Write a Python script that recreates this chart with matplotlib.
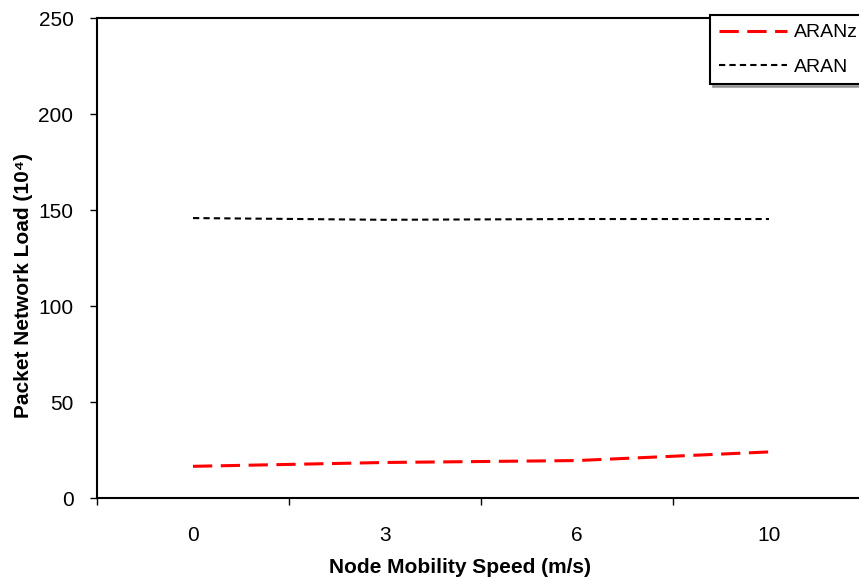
import matplotlib
matplotlib.use("Agg")
import matplotlib.pyplot as plt
from matplotlib.ticker import FixedLocator, NullFormatter

plt.rcParams['font.family'] = ['Liberation Sans', 'DejaVu Sans']

speeds = ['0', '3', '6', '10']
aranz = [16.5, 18.5, 19.5, 24.0]
aran = [145.8, 144.9, 145.3, 145.3]
y_ticks = [0, 50, 100, 150, 200, 250]

W, H = 859, 581
fig = plt.figure(figsize=(W / 100, H / 100), dpi=100)
ax = fig.add_axes([97 / W, 83 / H, 768 / W, 480 / H])

x = list(range(len(speeds)))
ax.plot(x, aranz, color='#ff0000', lw=2.2, dashes=(6.3, 2.8), label='ARANz')
ax.plot(x, aran, color='black', lw=1.5, dashes=(3, 2), label='ARAN')

ax.set_xlim(-0.5, len(speeds) - 0.5)
ax.set_ylim(0, 250)
ax.set_yticks(y_ticks)

# category boundaries carry the tick marks, centres carry the labels
ax.xaxis.set_major_locator(FixedLocator([i - 0.5 for i in range(len(speeds) + 1)]))
ax.xaxis.set_major_formatter(NullFormatter())
ax.xaxis.set_minor_locator(FixedLocator(x))
ax.set_xticklabels(speeds, minor=True)
ax.tick_params(axis='x', which='minor', length=0, pad=20, labelsize=15)
ax.tick_params(axis='x', which='major', length=5, width=1, direction='out')
ax.tick_params(axis='y', length=5, width=1, direction='out', labelsize=15, pad=12)

for s in ax.spines.values():
    s.set_linewidth(1.5)

ax.set_xlabel('Node Mobility Speed (m/s)', fontsize=15, fontweight='bold')
ax.xaxis.set_label_coords(0.4727, -0.125)
ax.set_ylabel('Packet Network Load (10\u2074)', fontsize=15, fontweight='bold')
ax.yaxis.set_label_coords(-0.083, 0.4417)

leg = ax.legend(loc='upper left', bbox_to_anchor=(710 / W, 1 - 15 / H),
                bbox_transform=fig.transFigure, frameon=True, fancybox=False,
                shadow={'color': '#777777', 'alpha': 0.6}, fontsize=14,
                handlelength=3.5, borderpad=0.45, labelspacing=0.85, handletextpad=0.35,
                borderaxespad=0)
leg.get_frame().set_edgecolor('black')
leg.get_frame().set_linewidth(1.5)

fig.savefig('out.png', dpi=100)
